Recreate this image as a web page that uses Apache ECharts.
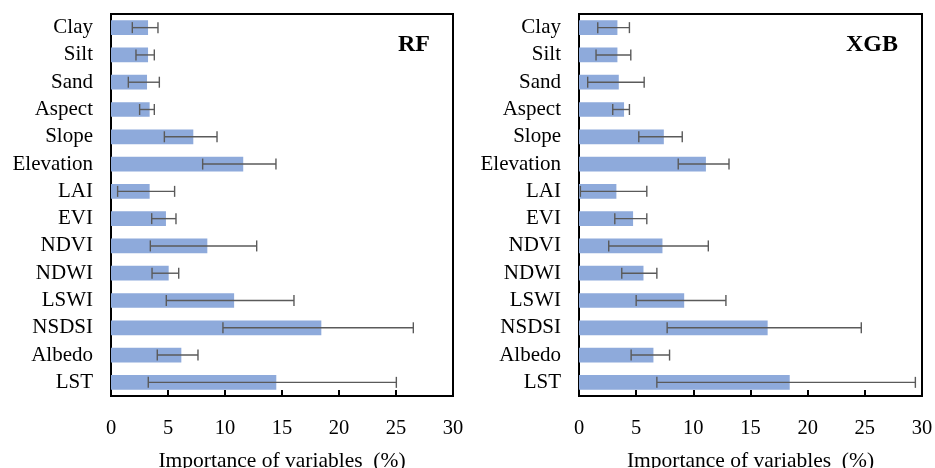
<!DOCTYPE html>
<html>
<head>
<meta charset="utf-8">
<script src="https://cdn.jsdelivr.net/npm/echarts@6/dist/echarts.min.js"></script>
<style>
  html, body { margin: 0; padding: 0; background: #fff; }
  #chart { width: 935px; height: 468px; }
</style>
</head>
<body>
<div id="chart"></div>
<script>
// categories, top to bottom
const categories = ["Clay", "Silt", "Sand", "Aspect", "Slope", "Elevation", "LAI", "EVI", "NDVI", "NDWI", "LSWI", "NSDSI", "Albedo", "LST"];
const xTicks = [0, 5, 10, 15, 20, 25, 30];

// RF importance (%) and error-bar ends
const rfValue = [3.25, 3.25, 3.16, 3.39, 7.22, 11.6, 3.39, 4.82, 8.45, 5.06, 10.8, 18.45, 6.17, 14.5];
const rfLow   = [1.87, 2.19, 1.52, 2.51, 4.68, 8.04, 0.58, 3.57, 3.45, 3.6, 4.85, 9.82, 4.06, 3.27];
const rfHigh  = [4.12, 3.8, 4.24, 3.8, 9.3, 14.47, 5.58, 5.7, 12.78, 5.94, 16.05, 26.52, 7.63, 25.03];

// XGB importance (%) and error-bar ends
const xgbValue = [3.36, 3.36, 3.48, 3.94, 7.42, 11.1, 3.27, 4.73, 7.3, 5.64, 9.2, 16.5, 6.51, 18.43];
const xgbLow   = [1.64, 1.49, 0.76, 2.95, 5.23, 8.68, 0.12, 3.13, 2.6, 3.74, 5.0, 7.71, 4.56, 6.81];
const xgbHigh  = [4.41, 4.53, 5.7, 4.41, 9.03, 13.12, 5.93, 5.93, 11.31, 6.81, 12.85, 24.69, 7.92, 29.42];

const panelNames = ["RF", "XGB"];

const FONT = "'Liberation Serif', 'Times New Roman', serif";
const BAR_COLOR = "#8eaadb";
const ERR_COLOR = "#5a5a5a";

function errorBar(params, api) {
  const idx = api.value(2);
  const p1 = api.coord([api.value(0), idx]);
  const p2 = api.coord([api.value(1), idx]);
  const half = 5.5;
  const style = { stroke: ERR_COLOR, lineWidth: 1.4, fill: null };
  return {
    type: "group",
    children: [
      { type: "line", shape: { x1: p1[0], y1: p1[1], x2: p2[0], y2: p2[1] }, style: style },
      { type: "line", shape: { x1: p1[0], y1: p1[1] - half, x2: p1[0], y2: p1[1] + half }, style: style },
      { type: "line", shape: { x1: p2[0], y1: p2[1] - half, x2: p2[0], y2: p2[1] + half }, style: style }
    ]
  };
}

function xAxisOf(i) {
  return {
    type: "value",
    gridIndex: i,
    min: xTicks[0],
    max: xTicks[xTicks.length - 1],
    interval: 5,
    name: "Importance of variables  (%)",
    nameLocation: "middle",
    nameGap: 54,
    nameTextStyle: { fontFamily: FONT, fontSize: 21.5, color: "#000" },
    axisLine: { show: false },
    axisTick: { show: true, inside: true, length: 6, lineStyle: { color: "#000", width: 2 } },
    axisLabel: { fontFamily: FONT, fontSize: 20.5, color: "#000", margin: 22 },
    splitLine: { show: false }
  };
}

function yAxisOf(i) {
  return {
    type: "category",
    gridIndex: i,
    inverse: true,
    data: categories,
    axisLine: { show: false },
    axisTick: { show: false },
    axisLabel: { fontFamily: FONT, fontSize: 21, color: "#000", margin: 18, interval: 0, hideOverlap: false }
  };
}

const chart = echarts.init(document.getElementById("chart"));
chart.setOption({
  animation: false,
  grid: [
    { left: 111, top: 14, width: 342, height: 382, show: true, borderColor: "#000", borderWidth: 2, outerBoundsMode: "none", containLabel: false },
    { left: 579, top: 14, width: 343, height: 382, show: true, borderColor: "#000", borderWidth: 2, outerBoundsMode: "none", containLabel: false }
  ],
  xAxis: [xAxisOf(0), xAxisOf(1)],
  yAxis: [yAxisOf(0), yAxisOf(1)],
  graphic: [
    { type: "text", right: 935 - 430, top: 33, style: { text: panelNames[0], font: "bold 24px " + FONT, fill: "#000" } },
    { type: "text", right: 935 - 898, top: 33, style: { text: panelNames[1], font: "bold 24px " + FONT, fill: "#000" } }
  ],
  series: [
    {
      type: "bar", xAxisIndex: 0, yAxisIndex: 0, data: rfValue,
      barWidth: "54%", itemStyle: { color: BAR_COLOR }
    },
    {
      type: "custom", xAxisIndex: 0, yAxisIndex: 0, renderItem: errorBar,
      encode: { x: [0, 1], y: 2 }, z: 5,
      data: categories.map((c, i) => [rfLow[i], rfHigh[i], i])
    },
    {
      type: "bar", xAxisIndex: 1, yAxisIndex: 1, data: xgbValue,
      barWidth: "54%", itemStyle: { color: BAR_COLOR }
    },
    {
      type: "custom", xAxisIndex: 1, yAxisIndex: 1, renderItem: errorBar,
      encode: { x: [0, 1], y: 2 }, z: 5,
      data: categories.map((c, i) => [xgbLow[i], xgbHigh[i], i])
    }
  ]
});
</script>
</body>
</html>
